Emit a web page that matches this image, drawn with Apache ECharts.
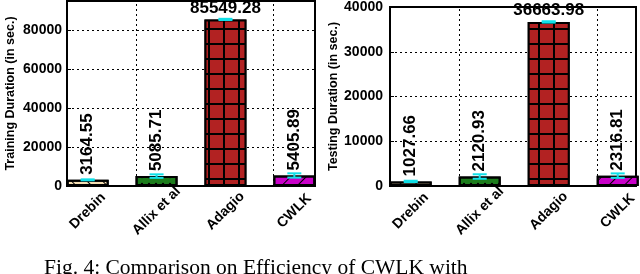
<!DOCTYPE html>
<html>
<head>
<meta charset="utf-8">
<script src="https://cdn.jsdelivr.net/npm/echarts@6/dist/echarts.min.js"></script>
<style>
html,body{margin:0;padding:0;background:#fff;}
#c{width:640px;height:274px;}
</style>
</head>
<body>
<div id="c"></div>
<script>
const methods = ['Drebin', 'Allix et al', 'Adagio', 'CWLK'];
const trainValues = [3164.55, 5085.71, 85549.28, 5405.89];
const trainErrors = [250, 900, 300, 1100];
const testValues = [1027.66, 2120.93, 36663.98, 2316.81];
const testErrors = [150, 500, 150, 500];
const trainTicks = [0, 20000, 40000, 60000, 80000];
const testTicks = [0, 10000, 20000, 30000, 40000];
const caption = 'Fig. 4: Comparison on Efficiency of CWLK with';

const FONT = 'Liberation Sans';
const fills = ['#f5deb3', '#1c7c1c', '#b22222', '#c800c8'];
const decals = [
  {symbol: 'rect', symbolSize: 1, dashArrayX: [1, 0], dashArrayY: [1, 10], rotation: Math.PI / 4, color: '#000'},
  {symbol: 'circle', symbolSize: 0.6, dashArrayX: [4, 3], dashArrayY: [4, 3], color: '#000'},
  {symbol: 'rect', symbolSize: 1, dashArrayX: [13, 1.2], dashArrayY: [13, 1.2], color: '#b22222'},
  {symbol: 'rect', symbolSize: 1, dashArrayX: [1, 0], dashArrayY: [1, 10], rotation: -Math.PI / 4, color: '#000'}
];

function barData(values) {
  const big = Math.max.apply(null, values);
  return values.map((v, i) => {
    const item = {
      value: [i, v],
      itemStyle: {color: i === 2 ? '#000' : fills[i], decal: decals[i]}
    };
    if (v === big) {
      item.label = {rotate: 0, align: 'center', verticalAlign: 'bottom', distance: 3};
    }
    return item;
  });
}

function errData(values, errs) {
  return values.map((v, i) => [i, v, errs[i]]);
}

function xAxisFor(idx, max) {
  return {
    type: 'value', gridIndex: idx, min: -0.3, max: max,
    splitLine: {show: false}, axisTick: {show: false},
    axisLine: {onZero: false, lineStyle: {color: '#000', width: 2}},
    axisLabel: {
      customValues: [0, 1, 2, 3],
      formatter: v => methods[Math.round(v)],
      rotate: 45, align: 'center', verticalAlign: 'middle', margin: 25,
      fontFamily: FONT, fontWeight: 'bold', fontSize: 14, color: '#000'
    }
  };
}

function yAxisFor(idx, max, interval, ticks, name, gap, margin) {
  return {
    type: 'value', gridIndex: idx, min: 0, max: max, interval: interval,
    name: name, nameLocation: 'middle', nameGap: gap,
    nameTextStyle: {fontFamily: FONT, fontWeight: 'bold', fontSize: 12.5, color: '#000'},
    axisLine: {show: true, onZero: false, lineStyle: {color: '#000', width: 2}},
    axisTick: {show: true, inside: true, length: 4, lineStyle: {color: '#000'}},
    splitLine: {show: true, lineStyle: {color: '#000', width: 1, type: [2, 3]}},
    axisLabel: {
      margin: margin,
      formatter: v => (ticks.indexOf(v) >= 0 ? String(v) : ''),
      fontFamily: FONT, fontWeight: 'bold', fontSize: 14, color: '#000'
    }
  };
}

function barSeries(idx, values) {
  return {
    type: 'bar', xAxisIndex: idx, yAxisIndex: idx, barWidth: 42,
    data: barData(values),
    itemStyle: {borderColor: '#000', borderWidth: 2},
    label: {
      show: true, position: 'top', rotate: 90, align: 'left', verticalAlign: 'middle', distance: 5,
      formatter: p => p.value[1].toFixed(2),
      fontFamily: FONT, fontWeight: 'bold', fontSize: 17, color: '#000'
    },
    markLine: {
      silent: true, symbol: 'none', label: {show: false},
      lineStyle: {color: '#000', width: 1, type: [2, 3]},
      data: [{xAxis: 0.7}, {xAxis: 2.7}]
    },
    z: 2
  };
}

function errSeries(idx, values, errs) {
  return {
    type: 'custom', xAxisIndex: idx, yAxisIndex: idx,
    data: errData(values, errs),
    encode: {x: 0, y: 1},
    z: 5,
    renderItem: (params, api) => {
      const x = api.value(0), v = api.value(1), e = api.value(2);
      const t = api.coord([x, v + e]);
      const b = api.coord([x, v - e]);
      const hw = 7;
      const st = {stroke: '#10e0e8', lineWidth: 2};
      return {
        type: 'group',
        children: [
          {type: 'line', shape: {x1: t[0], y1: t[1], x2: b[0], y2: b[1]}, style: st},
          {type: 'line', shape: {x1: t[0] - hw, y1: t[1], x2: t[0] + hw, y2: t[1]}, style: st},
          {type: 'line', shape: {x1: b[0] - hw, y1: b[1], x2: b[0] + hw, y2: b[1]}, style: st}
        ]
      };
    }
  };
}

const chart = echarts.init(document.getElementById('c'), null, {renderer: 'canvas'});
chart.setOption({
  animation: false,
  backgroundColor: '#fff',
  grid: [
    {left: 67, top: 1, width: 248, height: 185, show: true, borderColor: '#000', borderWidth: 2},
    {left: 390, top: 4, width: 246, height: 182, show: true, borderColor: '#000', borderWidth: 2}
  ],
  xAxis: [xAxisFor(0, 3.3), xAxisFor(1, 3.265)],
  yAxis: [
    yAxisFor(0, 95000, 20000, trainTicks, 'Training Duration (in sec.)', 50, 5),
    yAxisFor(1, 40000, 10000, testTicks, 'Testing Duration (in sec.)', 50, 7)
  ],
  series: [
    barSeries(0, trainValues),
    barSeries(1, testValues),
    errSeries(0, trainValues, trainErrors),
    errSeries(1, testValues, testErrors)
  ],
  graphic: [{
    type: 'text', left: 44, top: 257,
    style: {text: caption, font: '21.5px "Liberation Serif"', fill: '#000'}
  }]
});
</script>
</body>
</html>
